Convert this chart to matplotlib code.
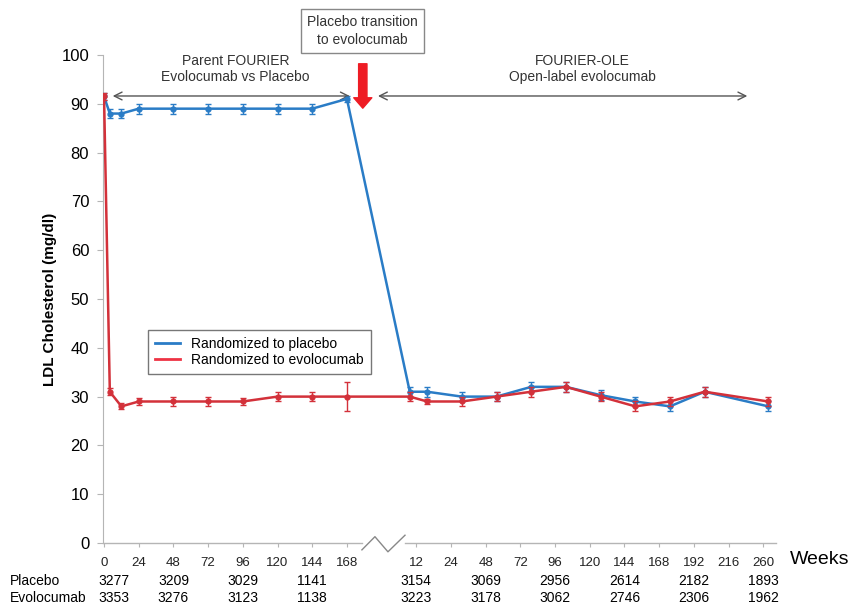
import matplotlib
matplotlib.use('Agg')
import matplotlib.pyplot as plt
import matplotlib.transforms as mtransforms
from matplotlib.lines import Line2D

plt.rcParams['font.family'] = ['Liberation Sans', 'DejaVu Sans']

BLUE = '#2a7cc6'
RED = '#d3313a'
ARROW_RED = '#ee1c24'
GREY = '#b5b5b5'

# Parent FOURIER (weeks since randomization)
parent_weeks = [0, 4, 12, 24, 48, 72, 96, 120, 144, 168]
pbo_parent = [91.5, 88, 88, 89, 89, 89, 89, 89, 89, 91]
pbo_parent_err = [0.8, 1, 1, 1, 1, 1, 1, 1, 1, 0.7]
evo_parent = [91.5, 31, 28, 29, 29, 29, 29, 30, 30, 30]
evo_parent_err = [0.8, 0.7, 0.6, 0.8, 1, 1, 0.8, 1, 1, 3]

# FOURIER-OLE (weeks since OLE start)
ole_weeks = [0, 12, 36, 60, 84, 108, 132, 156, 180, 204, 248]
pbo_ole = [31, 31, 30, 30, 32, 32, 30.3, 29, 28, 31, 28]
pbo_ole_err = [1, 1, 1, 1, 1, 1, 1, 1, 1, 1, 1]
evo_ole = [30, 29, 29, 30, 31, 32, 30, 28, 29, 31, 29]
evo_ole_err = [1, 0.5, 1, 1, 1, 1, 1, 1, 1, 1, 1]

parent_ticks = [0, 24, 48, 72, 96, 120, 144, 168]
ole_tick_labels = ['12', '24', '48', '72', '96', '120', '144', '168', '192', '216', '260']

# numbers at risk
risk_parent_ticks = [0, 48, 96, 144]
risk_pbo_parent = ['3277', '3209', '3029', '1141']
risk_evo_parent = ['3353', '3276', '3123', '1138']
risk_ole_ticks = ['12', '48', '96', '144', '192', '260']
risk_pbo_ole = ['3154', '3069', '2956', '2614', '2182', '1893']
risk_evo_ole = ['3223', '3178', '3062', '2746', '2306', '1962']

# axis layout: parent weeks plotted as is, OLE drawn after a break
STEP = 24
OLE_TICK0 = 9 * STEP          # position of first OLE tick
OLE_START = OLE_TICK0 - 4.5   # position of OLE week 0
ole_tick_pos = [OLE_TICK0 + STEP * i for i in range(len(ole_tick_labels))]

x_all = list(parent_weeks) + [OLE_START + w for w in ole_weeks]
y_pbo = pbo_parent + pbo_ole
y_evo = evo_parent + evo_ole
e_pbo = pbo_parent_err + pbo_ole_err
e_evo = evo_parent_err + evo_ole_err

fig = plt.figure(figsize=(8.48, 6.07), dpi=100)
ax = fig.add_axes([0.1215, 0.1054, 0.7935, 0.804])
ax.set_xlim(-0.7, 464.8)
ax.set_ylim(0, 100)

ax.errorbar(x_all, y_pbo, yerr=e_pbo, color=BLUE, lw=1.8, marker='o', ms=3.5,
            elinewidth=1, capsize=2.5, capthick=1, zorder=3)
ax.errorbar(x_all, y_evo, yerr=e_evo, color=RED, lw=1.8, marker='o', ms=3.5,
            elinewidth=1, capsize=2.5, capthick=1, zorder=4)

# spines / ticks
for s in ['top', 'right', 'bottom']:
    ax.spines[s].set_visible(False)
ax.spines['left'].set_color(GREY)
ax.set_yticks(range(0, 101, 10))
ax.tick_params(axis='y', colors=GREY, labelcolor='black', labelsize=12, length=4, pad=6)
ax.set_xticks(list(parent_ticks) + ole_tick_pos)
ax.set_xticklabels([str(t) for t in parent_ticks] + ole_tick_labels)
ax.tick_params(axis='x', colors=GREY, labelcolor='#222222', labelsize=9.5, length=3, pad=7)
ax.set_ylabel('LDL Cholesterol (mg/dl)', fontsize=11, fontweight='bold', labelpad=3)

# broken x axis
ax.plot([-0.7, 178.4], [0, 0], color=GREY, lw=1, clip_on=False)
ax.plot([208.2, 464.8], [0, 0], color=GREY, lw=1, clip_on=False)
ax.plot([178.4, 187.4, 196.4, 208.2], [-1.4, 1.3, -1.8, 1.6], color='#888888', lw=1, clip_on=False)

fig.text(790 / 848, 1 - 559 / 607, 'Weeks', fontsize=14, va='center', ha='left')

# annotations
ax.annotate('', xy=(6, 91.6), xytext=(170, 91.6),
            arrowprops=dict(arrowstyle='<->', color='#555555', lw=1, shrinkA=0, shrinkB=0,
                            mutation_scale=14))
ax.annotate('', xy=(189.5, 91.6), xytext=(445, 91.6),
            arrowprops=dict(arrowstyle='<->', color='#555555', lw=1, shrinkA=0, shrinkB=0,
                            mutation_scale=14))
ax.text(91, 97.2, 'Parent FOURIER\nEvolocumab vs Placebo', ha='center', va='center',
        fontsize=10, color='#333333', linespacing=1.2)
ax.text(331, 97.2, 'FOURIER-OLE\nOpen-label evolocumab', ha='center', va='center',
        fontsize=10, color='#333333', linespacing=1.2)
ax.annotate('', xy=(179, 89.1), xytext=(179, 98.2),
            arrowprops=dict(color=ARROW_RED, width=6, headwidth=13, headlength=7.5, shrink=0),
            annotation_clip=False)
ax.text(179, 104.9, 'Placebo transition\nto evolocumab', ha='center', va='center',
        fontsize=10, color='#333333', linespacing=1.3, clip_on=False,
        bbox=dict(boxstyle='square,pad=0.45', fc='white', ec='#888888', lw=1))

handles = [Line2D([], [], color=BLUE, lw=2), Line2D([], [], color='#ee3344', lw=2)]
leg = ax.legend(handles, ['Randomized to placebo', 'Randomized to evolocumab'],
                loc='upper left', bbox_to_anchor=(0.067, 0.437), borderaxespad=0,
                fontsize=10, frameon=True, fancybox=False, handlelength=1.8,
                borderpad=0.5, labelspacing=0.15, handletextpad=0.8)
leg.get_frame().set_edgecolor('#555555')
leg.get_frame().set_linewidth(1)

# number at risk table
trans = mtransforms.blended_transform_factory(ax.transData, fig.transFigure)
y_pbo_row = 1 - 581 / 607
y_evo_row = 1 - 598 / 607
fig.text(10 / 848, y_pbo_row, 'Placebo', fontsize=10, va='center')
fig.text(10 / 848, y_evo_row, 'Evolocumab', fontsize=10, va='center')
for i, wk in enumerate(risk_parent_ticks):
    xpos = wk if wk > 0 else -4
    ha = 'center' if wk > 0 else 'left'
    ax.text(xpos, y_pbo_row, risk_pbo_parent[i], transform=trans, ha=ha, va='center', fontsize=10)
    ax.text(xpos, y_evo_row, risk_evo_parent[i], transform=trans, ha=ha, va='center', fontsize=10)
for i, lab in enumerate(risk_ole_ticks):
    xpos = ole_tick_pos[ole_tick_labels.index(lab)]
    ax.text(xpos, y_pbo_row, risk_pbo_ole[i], transform=trans, ha='center', va='center', fontsize=10)
    ax.text(xpos, y_evo_row, risk_evo_ole[i], transform=trans, ha='center', va='center', fontsize=10)

plt.savefig('out.png', dpi=100)
